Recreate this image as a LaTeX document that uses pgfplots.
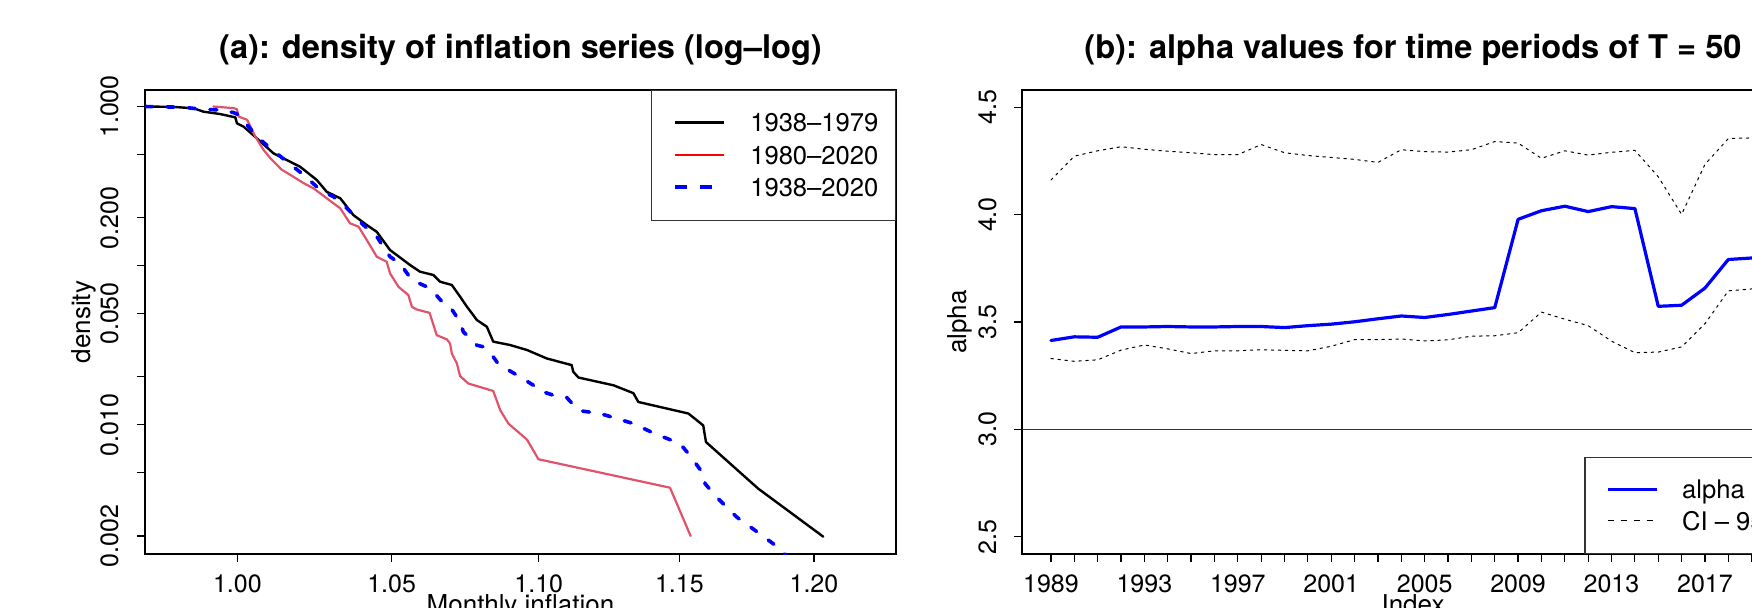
\documentclass[border=0pt]{standalone}
\usepackage{fontspec}
\setmainfont{TeX Gyre Heros}
\usepackage{pgfplots}
\pgfplotsset{compat=1.18}
\definecolor{Rred}{HTML}{DF536B}
\newcommand\tickfont{\fontsize{12.5}{14}\selectfont}
\newcommand\labfont{\fontsize{13}{15}\selectfont}
\newcommand\legfont{\fontsize{12.8}{15}\selectfont}
\newcommand\titlefont{\fontsize{16.3}{20}\selectfont\bfseries}
\begin{document}
\begin{tikzpicture}
\useasboundingbox (0pt,0pt) rectangle (876pt,303.5pt);
\clip (0pt,0pt) rectangle (876pt,303.5pt);
\pgfplotsset{
  myaxis/.style={
    scale only axis, anchor=south west, height=232pt,
    axis line style={black, line width=0.6pt},
    every tick/.style={black, line width=0.6pt},
    tick align=outside, major tick length=4pt,
    xminorticks=false, yminorticks=false,
    xtick pos=bottom, ytick pos=left,
    ticklabel style={font=\tickfont},
    xticklabel style={anchor=north, inner sep=6pt},
    xlabel style={font=\labfont, at={(axis description cs:0.5,0)}, anchor=north, inner sep=0pt, yshift=-20pt},
    title style={font=\titlefont, at={(axis description cs:0.5,1)}, anchor=base, inner sep=0pt, yshift=10pt},
    legend cell align=left,
    legend image code/.code={\path (0pt,0pt); \draw[##1, line cap=butt] (2.5pt,4.6pt) -- (27pt,4.6pt);},
  }
}
% ---------------- panel (a)
\begin{axis}[myaxis, at={(72.5pt,26.5pt)}, width=375.5pt,
  x coord trafo/.code={\pgfmathparse{ln(#1)}},
  ymode=log,
  xmin=0.9714, xmax=1.2315, ymin=0.00154, ymax=1.27,
  xtick={1,1.05,1.1,1.15,1.2}, xticklabels={1.00,1.05,1.10,1.15,1.20},
  ytick={1,0.5,0.2,0.1,0.05,0.02,0.01,0.005,0.002},
  yticklabels={1.000,,0.200,,0.050,,0.010,,0.002},
  yticklabel style={rotate=90, anchor=south, inner sep=9pt},
  ylabel style={font=\labfont, at={(axis description cs:-0.0639,0.5)}, anchor=south, inner sep=0pt},
  xlabel={Monthly inflation}, ylabel={density},
  title={(a): density of inflation series (log--log)},
  legend style={at={(rel axis cs:1,1)}, anchor=north east, draw=black!80, line width=0.6pt,
    inner xsep=8.5pt, inner ysep=11.4pt, row sep=6.3pt,
    nodes={font=\legfont, inner sep=0pt, anchor=base west, text height=9.2pt, text depth=0pt},
    /tikz/every odd column/.append style={column sep=12pt}},
]
\addplot[forget plot, black, line width=1.2pt, line join=round, line cap=round] table {
0.9714 1.000
0.9800 0.995
0.9863 0.974
0.9894 0.928
0.9946 0.897
0.9994 0.855
0.9999 0.784
1.0020 0.747
1.0062 0.631
1.0115 0.508
1.0158 0.461
1.0201 0.418
1.0255 0.345
1.0287 0.291
1.0331 0.265
1.0374 0.208
1.0418 0.180
1.0451 0.163
1.0495 0.1253
1.0562 0.1008
1.0595 0.0916
1.0640 0.0873
1.0662 0.0793
1.0702 0.0756
1.0730 0.0638
1.0753 0.0552
1.0787 0.0455
1.0821 0.0413
1.0843 0.0333
1.0901 0.0317
1.0959 0.0295
1.1028 0.0261
1.1115 0.0237
1.1121 0.0215
1.1139 0.0198
1.1263 0.0177
1.1334 0.0158
1.1352 0.0139
1.1533 0.01176
1.1587 0.0099
1.1597 0.00779
1.1790 0.00397
1.2035 0.00198
};
\addplot[forget plot, Rred, line width=1.1pt, line join=round, line cap=round] table {
0.9925 1.000
0.9988 0.977
0.9999 0.963
1.0004 0.865
1.0031 0.825
1.0057 0.648
1.0083 0.535
1.0105 0.474
1.0142 0.400
1.0169 0.372
1.0212 0.330
1.0244 0.306
1.0287 0.265
1.0331 0.229
1.0363 0.1845
1.0391 0.1757
1.0418 0.145
1.0451 0.1137
1.0484 0.1058
1.0495 0.0894
1.0523 0.0736
1.0556 0.0653
1.0568 0.0551
1.0584 0.0530
1.0627 0.0505
1.0651 0.0366
1.0685 0.0344
1.0696 0.0324
1.0702 0.0280
1.0719 0.0243
1.0730 0.0202
1.0758 0.01815
1.0843 0.01631
1.0867 0.01233
1.0895 0.01017
1.0959 0.00807
1.0999 0.00607
1.1466 0.00402
1.1541 0.00200
};
\addplot[forget plot, blue, line width=1.8pt, line join=round, line cap=round, dash pattern=on 3.5pt off 7.25pt] table {
0.9714 1.000
0.9830 0.990
0.9884 0.963
0.9936 0.953
0.9988 0.917
1.0004 0.887
1.0031 0.767
1.0062 0.647
1.0105 0.547
1.0158 0.451
1.0212 0.372
1.0266 0.299
1.0309 0.271
1.0353 0.229
1.0407 0.180
1.0451 0.152
1.0495 0.1137
1.0528 0.1033
1.0568 0.0811
1.0629 0.0720
1.0674 0.0579
1.0696 0.0551
1.0730 0.0443
1.0741 0.0384
1.0787 0.0316
1.0809 0.0309
1.0843 0.0267
1.0861 0.0240
1.0935 0.0200
1.0981 0.01773
1.0999 0.01648
1.1051 0.01532
1.1098 0.01482
1.1133 0.01264
1.1151 0.01220
1.1215 0.01176
1.1263 0.01110
1.1334 0.01017
1.1406 0.00887
1.1502 0.00761
1.1533 0.00658
1.1551 0.00597
1.1587 0.00493
1.1594 0.00426
1.1636 0.00351
1.1710 0.00263
1.1797 0.00206
1.1872 0.00166
1.1930 0.00130
};
\addlegendimage{black, line width=1.2pt}
\addlegendentry{1938--1979}
\addlegendimage{red, line width=1.2pt}
\addlegendentry{1980--2020}
\addlegendimage{blue, line width=1.8pt, dash pattern=on 6pt off 6.5pt}
\addlegendentry{1938--2020}
\end{axis}
% ---------------- panel (b)
\begin{axis}[myaxis, at={(511pt,26.5pt)}, width=391pt,
  xmin=1987.76, xmax=2021.24, ymin=2.42, ymax=4.58,
  xtick={1989,...,2020},
  xticklabels={1989,,,,1993,,,,1997,,,,2001,,,,2005,,,,2009,,,,2013,,,,2017,,,},
  ytick={2.5,3,3.5,4,4.5}, yticklabels={2.5,3.0,3.5,4.0,4.5},
  yticklabel style={rotate=90, anchor=south, inner sep=8.5pt},
  ylabel style={font=\labfont, at={(axis description cs:-0.0627,0.5)}, anchor=south, inner sep=0pt},
  xlabel={Index}, ylabel={alpha},
  title={(b): alpha values for time periods of T = 50},
  legend style={at={(rel axis cs:1,0)}, anchor=south east, draw=black!80, line width=0.6pt,
    inner xsep=8pt, inner ysep=11.4pt, row sep=5.8pt,
    nodes={font=\legfont, inner sep=0pt, anchor=base west, text height=9.2pt, text depth=0pt},
    /tikz/every odd column/.append style={column sep=12pt}},
]
\addplot[forget plot, black!80, line width=0.6pt] coordinates {(1987,3) (2022,3)};
\addplot[forget plot, black, line width=0.5pt, line cap=round, dash pattern=on 1.25pt off 2.25pt] table {
1989 4.161
1990 4.272
1991 4.297
1992 4.316
1993 4.304
1994 4.295
1995 4.288
1996 4.279
1997 4.279
1998 4.326
1999 4.288
2000 4.275
2001 4.266
2002 4.257
2003 4.243
2004 4.302
2005 4.293
2006 4.291
2007 4.302
2008 4.340
2009 4.333
2010 4.262
2011 4.297
2012 4.277
2013 4.290
2014 4.299
2015 4.176
2016 4.001
2017 4.234
2018 4.354
2019 4.357
2020 4.360
};
\addplot[forget plot, black, line width=0.5pt, line cap=round, dash pattern=on 1.25pt off 2.25pt] table {
1989 3.330
1990 3.317
1991 3.324
1992 3.369
1993 3.393
1994 3.375
1995 3.353
1996 3.366
1997 3.366
1998 3.371
1999 3.368
2000 3.366
2001 3.387
2002 3.418
2003 3.418
2004 3.421
2005 3.412
2006 3.417
2007 3.434
2008 3.436
2009 3.450
2010 3.546
2011 3.513
2012 3.483
2013 3.411
2014 3.357
2015 3.360
2016 3.384
2017 3.492
2018 3.645
2019 3.654
2020 3.660
};
\addplot[forget plot, blue, line width=1.6pt, line join=round, line cap=round] table {
1989 3.414
1990 3.431
1991 3.429
1992 3.477
1993 3.477
1994 3.479
1995 3.477
1996 3.477
1997 3.479
1998 3.479
1999 3.474
2000 3.483
2001 3.490
2002 3.501
2003 3.515
2004 3.528
2005 3.521
2006 3.535
2007 3.551
2008 3.567
2009 3.978
2010 4.018
2011 4.039
2012 4.014
2013 4.037
2014 4.028
2015 3.573
2016 3.578
2017 3.658
2018 3.791
2019 3.798
2020 3.800
};
\addlegendimage{blue, line width=1.6pt}
\addlegendentry{alpha}
\addlegendimage{black, line width=0.5pt, dash pattern=on 3pt off 3.5pt}
\addlegendentry{CI -- 95\%}
\end{axis}
\end{tikzpicture}
\end{document}
